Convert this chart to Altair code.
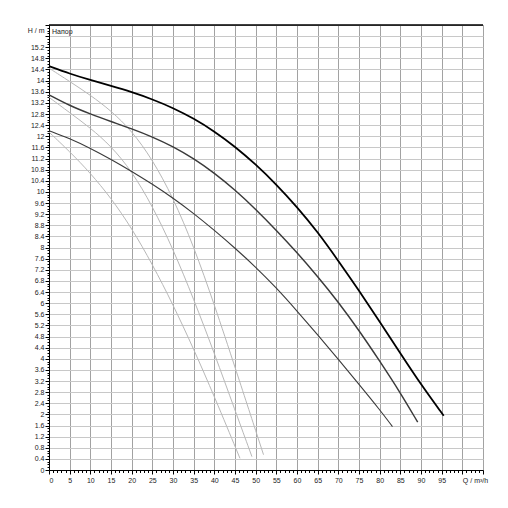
import altair as alt
import pandas as pd

# ---- data ----
n1_q = [0, 5, 10, 15, 20, 25, 30, 35, 40, 45, 50, 55, 60, 65, 70, 75, 80, 85, 90, 95.5]
n1_h = [14.52, 14.25, 14.02, 13.81, 13.59, 13.33, 13.02, 12.64, 12.18, 11.63, 10.99, 10.27, 9.46, 8.56, 7.52, 6.45, 5.33, 4.2, 3.07, 1.95]

n2_q = [0, 5, 10, 15, 20, 25, 30, 35, 40, 45, 50, 55, 60, 65, 70, 75, 80, 85, 89.2]
n2_h = [13.49, 13.1, 12.8, 12.53, 12.27, 11.98, 11.63, 11.2, 10.68, 10.07, 9.38, 8.62, 7.82, 6.96, 6.04, 5.02, 3.92, 2.78, 1.72]

n3_q = [0, 5, 10, 15, 20, 25, 30, 35, 40, 45, 50, 55, 60, 65, 70, 75, 80, 83.1]
n3_h = [12.2, 11.92, 11.57, 11.17, 10.74, 10.28, 9.78, 9.23, 8.62, 7.98, 7.3, 6.55, 5.72, 4.86, 3.98, 3.08, 2.17, 1.56]

s1_q = [0, 5, 10, 15, 20, 25, 30, 35, 40, 45, 51.9]
s1_h = [14.45, 13.97, 13.48, 12.92, 12.2, 11.17, 9.8, 8.05, 5.95, 3.7, 0.55]

s2_q = [0, 5, 10, 15, 20, 25, 30, 35, 40, 45, 49.1]
s2_h = [13.4, 12.85, 12.3, 11.65, 10.75, 9.5, 7.95, 6.15, 4.2, 2.15, 0.48]

s3_q = [0, 5, 10, 15, 20, 25, 30, 35, 40, 46.2]
s3_h = [12.15, 11.45, 10.68, 9.78, 8.7, 7.4, 5.95, 4.35, 2.65, 0.42]

x_tick_values = list(range(0, 106))
y_tick_values = [round(i * 0.1, 1) for i in range(0, 161)]

label_top = "Напор"
x_title = "Q / m³/h"
y_title = "H / m"

# ---- build tables ----
rows = []
for name, qs, hs in [("n1", n1_q, n1_h), ("n2", n2_q, n2_h), ("n3", n3_q, n3_h),
                     ("s1", s1_q, s1_h), ("s2", s2_q, s2_h), ("s3", s3_q, s3_h)]:
    for i, (q, h) in enumerate(zip(qs, hs)):
        rows.append({"curve": name, "Q": q, "H": h, "i": i})
df = pd.DataFrame(rows)

W, H = 434, 445
FONT = "Liberation Sans"

x_major = "datum.value % 5 == 0"
y_major = "round(datum.value * 10) % 4 == 0"

x_axis = alt.Axis(
    values=x_tick_values,
    tickCount=1000,
    labelExpr="(datum.value % 5 == 0 && datum.value < 100) ? format(datum.value, 'd') : ''",
    labelOverlap=False,
    tickSize={"condition": {"test": x_major, "value": 4}, "value": 2.5},
    grid=True,
    gridColor="#a2a2a2",
    gridWidth=1,
    gridOpacity={"condition": {"test": x_major, "value": 1}, "value": 0},
    title=x_title,
    titleX=426,
    titleY=10,
    titleAlign="center",
    titleBaseline="middle",
    titleFontSize=7,
    titleFontWeight="normal",
    titleFont=FONT,
    titleColor="#222",
    labelPadding=2,
)

y_axis = alt.Axis(
    values=y_tick_values,
    tickCount=1000,
    labelExpr="(" + y_major + " && datum.value <= 15.2) ? format(datum.value, '.1~f') : ''",
    labelOverlap=False,
    tickSize={"condition": {"test": y_major, "value": 4}, "value": 2},
    grid=True,
    gridColor="#c8c8c8",
    gridWidth=1,
    gridOpacity={"condition": {"test": y_major + " && datum.value < 16", "value": 1}, "value": 0},
    title=y_title,
    titleAngle=0,
    titleX=-5,
    titleY=5,
    titleAlign="right",
    titleBaseline="middle",
    titleFontSize=7,
    titleFontWeight="normal",
    titleFont=FONT,
    titleColor="#222",
    labelPadding=1,
)

xs = alt.Scale(domain=[0, 105], nice=False, zero=False)
ys = alt.Scale(domain=[0, 16], nice=False, zero=False)

light = alt.Chart(df[df.curve.str.startswith("s")]).mark_line(
    interpolate="basis", color="#b8b8b8", strokeWidth=1
).encode(
    x=alt.X("Q:Q", scale=xs, axis=x_axis),
    y=alt.Y("H:Q", scale=ys, axis=y_axis),
    detail="curve:N",
    order="i:Q",
)

dark = alt.Chart(df[df.curve.str.startswith("n")]).mark_line(
    interpolate="basis"
).encode(
    x=alt.X("Q:Q", scale=xs),
    y=alt.Y("H:Q", scale=ys),
    color=alt.Color("curve:N", scale=alt.Scale(domain=["n1", "n2", "n3"],
                                               range=["#000000", "#3a3a3a", "#3a3a3a"]), legend=None),
    strokeWidth=alt.StrokeWidth("curve:N", scale=alt.Scale(domain=["n1", "n2", "n3"],
                                                           range=[1.8, 1.1, 1.0]), legend=None),
    detail="curve:N",
    order="i:Q",
)

one = pd.DataFrame({"a": [0]})
top_border = alt.Chart(one).mark_rule(color="black", strokeWidth=1.5).encode(
    x=alt.value(0), x2=alt.value(W), y=alt.value(0)
)
label = alt.Chart(one).mark_text(
    align="left", baseline="middle", fontSize=7, font=FONT, color="#222"
).encode(x=alt.value(3), y=alt.value(6.5), text=alt.value(label_top))

chart = alt.layer(light, dark, top_border, label).properties(
    width=W, height=H,
    autosize=alt.AutoSizeParams(type="none"),
    padding={"left": 41, "top": 17, "right": 17, "bottom": 25},
).configure_axis(
    domainColor="black",
    tickColor="black",
    labelFont=FONT,
    labelFontSize=7,
    labelColor="#222",
).configure_view(stroke="#999999", strokeWidth=1)

chart.save("out.html", embed_options={"renderer": "svg", "actions": False})
